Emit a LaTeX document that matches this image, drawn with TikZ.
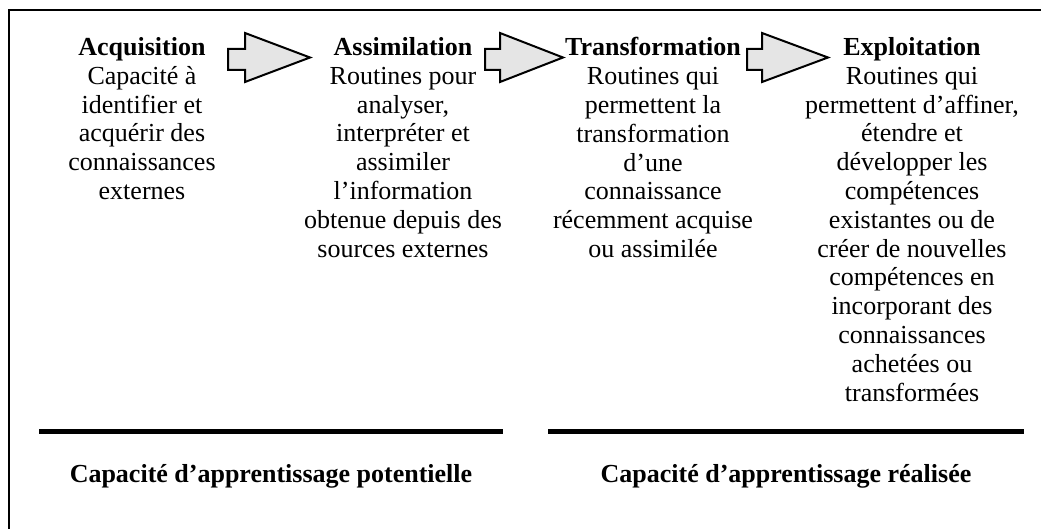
\documentclass[tikz,border=0pt]{standalone}
\usepackage{fontspec}
\setmainfont{Liberation Serif}
\begin{document}
\begin{tikzpicture}[x=1pt,y=-1pt,
  coltext/.style={anchor=north, align=center, inner sep=0pt,
    font=\fontsize{26}{28.8}\selectfont},
  bottomtext/.style={anchor=base, inner sep=0pt,
    font=\fontsize{26}{28.8}\selectfont\bfseries},
  stagearrow/.style={draw=black, line width=2pt, fill=black!10, line join=miter},
  capbar/.style={line width=5pt}
]
\useasboundingbox (0,0) rectangle (1041,529);

% outer frame (open towards right and bottom edges)
\draw[line width=2.2pt] (9,540) -- (9,10) -- (1050,10);

% the four stages
\node[coltext] (acq) at (142,37.3) {\textbf{Acquisition}\\Capacité à\\identifier et\\acquérir des\\connaissances\\externes};
\node[coltext] (ass) at (403,37.3) {\textbf{Assimilation}\\Routines pour\\analyser,\\interpréter et\\assimiler\\l’information\\obtenue depuis des\\sources externes};
\node[coltext] (tra) at (653,37.3) {\textbf{Transformation}\\Routines qui\\permettent la\\transformation\\d’une\\connaissance\\récemment acquise\\ou assimilée};
\node[coltext] (exp) at (912,37.3) {\textbf{Exploitation}\\Routines qui\\permettent d’affiner,\\étendre et\\développer les\\compétences\\existantes ou de\\créer de nouvelles\\compétences en\\incorporant des\\connaissances\\achetées ou\\transformées};

% block arrows between stages
\foreach \t/\b/\p in {228/245/310, 485/500/563, 747/762/828}{
  \draw[stagearrow] (\t,49) -- (\b,49) -- (\b,33) -- (\p,57.5) -- (\b,82) -- (\b,70) -- (\t,70) -- cycle;
}

% capacity bars and labels
\coordinate (potL) at (39,431);
\coordinate (potR) at (503,431);
\coordinate (reaL) at (548,431);
\coordinate (reaR) at (1024,431);
\draw[capbar] (potL) -- (potR);
\draw[capbar] (reaL) -- (reaR);
\node[bottomtext] (pot) at (271,482) {Capacité d’apprentissage potentielle};
\node[bottomtext] (rea) at (786,482) {Capacité d’apprentissage réalisée};
\end{tikzpicture}
\end{document}
